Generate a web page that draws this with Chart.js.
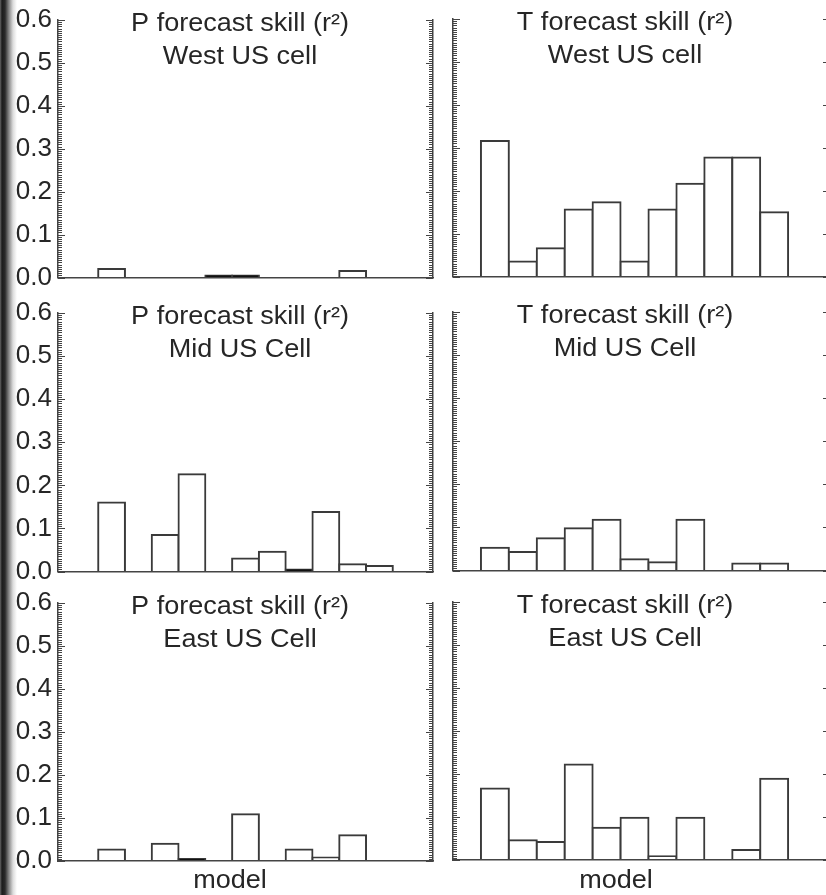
<!DOCTYPE html>
<html>
<head>
<meta charset="utf-8">
<script src="https://cdn.jsdelivr.net/npm/chart.js@4.4.0/dist/chart.umd.min.js"></script>
<style>
html, body { margin:0; padding:0; background:#fff; overflow:hidden; width:826px; height:895px; }
#shade { position:absolute; left:0; top:0; width:17px; height:895px;
  background:linear-gradient(to right, #666 0px, #1c1c1c 2px, #2a2a2a 5px, #8a8a8a 9px, #dcdcdc 13px, #fff 17px); }
canvas { position:absolute; }
</style>
</head>
<body>
<div id="shade"></div>
<script>
// models on the x axis and r^2 skill per model (null = no bar)
var models = [1, 2, 3, 4, 5, 6, 7, 8, 9, 10, 11];
var pWest = [0.020, null, null, null, 0.002, 0.002, null, null, null, 0.015, null];
var tWest = [0.316, 0.035, 0.066, 0.156, 0.173, 0.035, 0.156, 0.216, 0.277, 0.277, 0.150];
var pMid  = [0.160, null, 0.085, 0.226, null, 0.030, 0.046, 0.002, 0.138, 0.017, 0.013];
var tMid  = [0.053, 0.043, 0.075, 0.098, 0.118, 0.026, 0.019, 0.118, null, 0.016, 0.016];
var pEast = [0.027, null, 0.040, 0.002, null, 0.109, null, 0.027, 0.008, 0.060, null];
var tEast = [0.166, 0.046, 0.042, 0.222, 0.075, 0.098, 0.009, 0.098, null, 0.023, 0.189];
var yTickValues = [0, 0.1, 0.2, 0.3, 0.4, 0.5, 0.6];
var xTitle = 'model';

var panels = [
    {data: pWest, lines: ['P forecast skill (r\u00b2)', 'West US cell'], col: 0, row: 0},
    {data: tWest, lines: ['T forecast skill (r\u00b2)', 'West US cell'], col: 1, row: 0},
    {data: pMid,  lines: ['P forecast skill (r\u00b2)', 'Mid US Cell'],  col: 0, row: 1},
    {data: tMid,  lines: ['T forecast skill (r\u00b2)', 'Mid US Cell'],  col: 1, row: 1},
    {data: pEast, lines: ['P forecast skill (r\u00b2)', 'East US Cell'], col: 0, row: 2},
    {data: tEast, lines: ['T forecast skill (r\u00b2)', 'East US Cell'], col: 1, row: 2}
];

// layout of the 2x3 grid (page pixels)
var cols = [
    {left: 0,   width: 440, axisLeft: 58,  axisRight: 433, xMin: -1,   xMax: 13, labels: true,  textX: 240, modelX: 230, dy: 0},
    {left: 440, width: 400, axisLeft: 453, axisRight: 830, xMin: -0.5, xMax: 13, labels: false, textX: 625, modelX: 616, dy: -1}
];
var rows = [
    {top: 0,   height: 290, areaTop: 20,  areaBottom: 277.5},
    {top: 290, height: 290, areaTop: 313, areaBottom: 571.5},
    {top: 580, height: 315, areaTop: 603, areaBottom: 861, model: true}
];

var FONT = '"Liberation Sans", Arial, Helvetica, sans-serif';
Chart.defaults.font.family = FONT;

// inward major + minor ticks on both vertical axes
var innerTicks = {
    id: 'innerTicks',
    afterDraw: function(chart){
        var ctx = chart.ctx;
        var ys = chart.scales.y;
        var a = chart.chartArea;
        ctx.save();
        ctx.strokeStyle = '#444';
        ctx.lineWidth = 1;
        ctx.beginPath();
        for (var k = 0; k <= 120; k++) {
            var py = Math.round(ys.getPixelForValue(k * 0.005)) + 0.5;
            var len = (k % 20 === 0) ? 7 : 4;
            ctx.moveTo(a.left, py); ctx.lineTo(a.left + len, py);
            ctx.moveTo(a.right, py); ctx.lineTo(a.right - len, py);
        }
        ctx.stroke();
        ctx.restore();
    }
};

// titles drawn inside the plot box, and the x title
var panelText = {
    id: 'panelText',
    afterDraw: function(chart, args, opts){
        var ctx = chart.ctx;
        ctx.save();
        ctx.fillStyle = '#262626';
        ctx.font = '26px ' + FONT;
        ctx.textAlign = 'center';
        ctx.textBaseline = 'alphabetic';
        for (var i = 0; i < opts.items.length; i++) {
            var it = opts.items[i];
            ctx.save();
            ctx.translate(it.x, it.y);
            ctx.scale(1.04, 1);
            ctx.fillText(it.text, 0, 0);
            ctx.restore();
        }
        ctx.restore();
    }
};

function makePanel(p){
    var c = cols[p.col];
    var r = rows[p.row];
    var top = r.top + c.dy;
    var canvas = document.createElement('canvas');
    canvas.width = c.width;
    canvas.height = r.height;
    canvas.style.left = c.left + 'px';
    canvas.style.top = top + 'px';
    document.body.appendChild(canvas);

    var items = [
        {text: p.lines[0], x: c.textX - c.left, y: r.areaTop + 11 - r.top},
        {text: p.lines[1], x: c.textX - c.left, y: r.areaTop + 43.5 - r.top}
    ];
    if (r.model) {
        items.push({text: xTitle, x: c.modelX - c.left, y: 888 - top});
    }

    var border = {display: true, color: '#444', width: 1.5, z: 1};

    new Chart(canvas, {
        type: 'bar',
        data: {
            labels: models,
            datasets: [{
                data: p.data,
                backgroundColor: function(ctx){ return (ctx.raw != null && ctx.raw < 0.005) ? '#111' : '#fff'; },
                borderColor: '#3a3a3a',
                borderWidth: 2,
                inflateAmount: 1,
                minBarLength: 2,
                barPercentage: 1,
                categoryPercentage: 1
            }]
        },
        options: {
            responsive: false,
            animation: false,
            events: [],
            layout: {padding: {top: r.areaTop - r.top, bottom: r.top + r.height - r.areaBottom,
                               left: 0, right: c.width - (c.axisRight - c.left)}},
            plugins: {legend: {display: false}, tooltip: {enabled: false}, panelText: {items: items}},
            scales: {
                x: {type: 'linear', min: c.xMin, max: c.xMax, offset: false,
                    grid: {display: false, drawTicks: false}, ticks: {display: false}, border: border},
                y: {position: 'left', min: 0, max: 0.6,
                    afterBuildTicks: function(axis){ axis.ticks = yTickValues.map(function(v){ return {value: v}; }); },
                    grid: {display: false, drawTicks: false},
                    ticks: {display: c.labels, autoSkip: false, padding: 6, color: '#262626',
                            font: {size: 26, lineHeight: 1},
                            callback: function(v){ return v.toFixed(1); }},
                    border: border,
                    afterFit: function(axis){ axis.width = c.axisLeft - c.left; axis.paddingTop = 0; axis.paddingBottom = 0; }},
                y2: {position: 'right', min: 0, max: 0.6,
                    grid: {display: false, drawTicks: false}, ticks: {display: false},
                    border: border,
                    afterFit: function(axis){ axis.width = 0; axis.paddingTop = 0; axis.paddingBottom = 0; }}
            }
        },
        plugins: [innerTicks, panelText]
    });
}

for (var i = 0; i < panels.length; i++) {
    makePanel(panels[i]);
}
</script>
</body>
</html>
